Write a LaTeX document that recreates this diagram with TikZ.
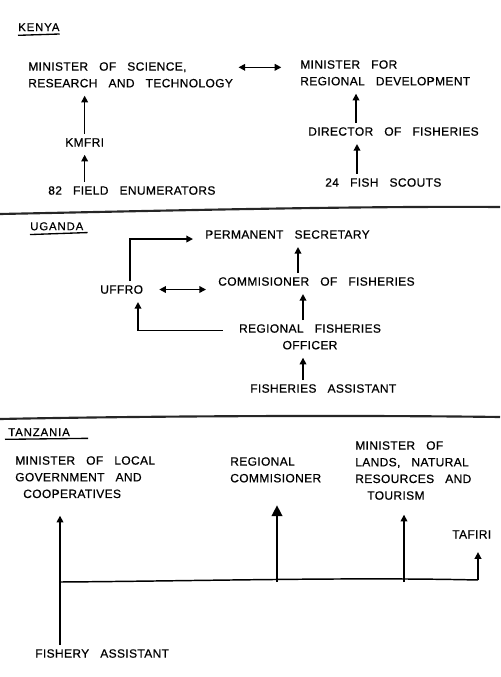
\documentclass[tikz,border=0pt]{standalone}
\usepackage{fontspec}
\newfontfamily\handfont[LetterSpace=3,WordSpace=3,FakeBold=0.6]{Liberation Sans}
\newfontfamily\countryfont[LetterSpace=8,FakeBold=0.6]{Liberation Sans}
\usetikzlibrary{positioning,arrows.meta}

\begin{document}
\begin{tikzpicture}[
  x=0.75pt, y=-0.75pt,
  lbl/.style={inner sep=0pt, anchor=north west, align=left, font=\handfont\fontsize{9}{12.5}\selectfont},
  country/.style={inner sep=0pt, anchor=north west, font=\countryfont\fontsize{8.5}{10}\selectfont},
  arr/.style={-{Triangle[length=5pt,width=5pt]}, line width=1.1pt, shorten >=6pt, shorten <=3pt},
  dbl/.style={{Triangle[length=5pt,width=5pt]}-{Triangle[length=5pt,width=5pt]}, line width=1.1pt},
  sep/.style={line width=1.6pt, black!85},
  uline/.style={line width=1pt},
]
\useasboundingbox (0,0) rectangle (500,677);
% Kenya
\node[country] (kenya) at (18,23) {KENYA};
\draw[uline] ([yshift=-3pt]kenya.south west) -- ([yshift=-2pt]kenya.south east);
\node[lbl] (mst) at (28,62) {MINISTER OF SCIENCE,\\RESEARCH AND TECHNOLOGY};
\node[lbl] (mrd) at (300,60) {MINISTER FOR\\REGIONAL DEVELOPMENT};
\node[lbl] (kmfri) at (65,138) {KMFRI};
\node[lbl] (enum) at (48,186) {82 FIELD ENUMERATORS};
\node[lbl] (dof) at (308,127) {DIRECTOR OF FISHERIES};
\node[lbl] (scouts) at (325,178) {24 FISH SCOUTS};
\draw[dbl, shorten <=4pt, shorten >=14pt] ([yshift=-4pt]mst.north east) -- ([yshift=-5.5pt]mrd.north west);
\draw[arr] (kmfri.north) -- (kmfri |- mst.south);
\draw[arr] (kmfri |- enum.north) -- (kmfri.south);
\draw[arr] (356,0 |- dof.north) -- (356,0 |- mrd.south);
\draw[arr] (357,0 |- scouts.north) -- (357,0 |- dof.south);
\draw[sep] (0,214) .. controls (150,211) and (350,206) .. (500,207);
% Uganda
\node[country] (uganda) at (30,222) {UGANDA};
\draw[uline] ([yshift=-3pt]uganda.south west) -- ([shift={(4,2)}]uganda.south east);
\node[lbl] (perm) at (205,230) {PERMANENT SECRETARY};
\node[lbl] (comm) at (218,277) {COMMISIONER OF FISHERIES};
\node[lbl] (uffro) at (100,285) {UFFRO};
\node[lbl, align=center, anchor=north] (reg) at (310,324) {REGIONAL FISHERIES\\OFFICER};
\node[lbl] (fassist) at (250,384) {FISHERIES ASSISTANT};
\draw[dbl, shorten <=12pt, shorten >=9pt] (uffro.east) -- (uffro.east -| comm.west);
\draw[arr, shorten >=9pt] (130,0 |- uffro.north) |- (perm.south west);
\draw[arr] (298,0 |- comm.north) -- (298,0 |- perm.south);
\draw[arr] (303,0 |- reg.north) -- (303,0 |- comm.south);
\draw[arr, shorten <=12pt] ([yshift=-5pt]reg.north west) -| (138,0 |- uffro.south);
\draw[arr] (303,0 |- fassist.north) -- (303,0 |- reg.south);
\draw[sep] (0,419) .. controls (150,416) and (350,415) .. (500,417);
% Tanzania
\node[country] (tanzania) at (8,428) {TANZANIA};
\draw[uline] ([shift={(-3,3)}]tanzania.south west) -- ([shift={(18,2)}]tanzania.south east);
\node[lbl] (mlg) at (15,456) {MINISTER OF LOCAL\\GOVERNMENT AND\\\hspace*{6pt}COOPERATIVES};
\node[lbl] (rcom) at (230,457) {REGIONAL\\COMMISIONER};
\node[lbl] (mln) at (355,441) {MINISTER OF\\LANDS, NATURAL\\RESOURCES AND\\\hspace*{9pt}TOURISM};
\node[lbl] (tafiri) at (452,530) {TAFIRI};
\node[lbl] (fa) at (35,649) {FISHERY ASSISTANT};
\coordinate (bus) at (60,582);
\coordinate (busend) at (478,580);
\draw[arr, shorten >=13pt] (fa.north -| bus) -- (bus |- mlg.south);
\draw[line width=1.1pt] (bus) .. controls (200,581) and (350,577) .. (busend);
\draw[arr, shorten <=0pt, shorten >=17pt, -{Triangle[length=8pt,width=8pt]}] (277,0 |- bus) -- (277,0 |- rcom.south);
\draw[arr, shorten <=0pt, shorten >=11pt] (404,0 |- bus) -- (404,0 |- mln.south);
\draw[arr, shorten <=0pt, shorten >=10pt] (busend) -- (busend |- tafiri.south);
\end{tikzpicture}
\end{document}
